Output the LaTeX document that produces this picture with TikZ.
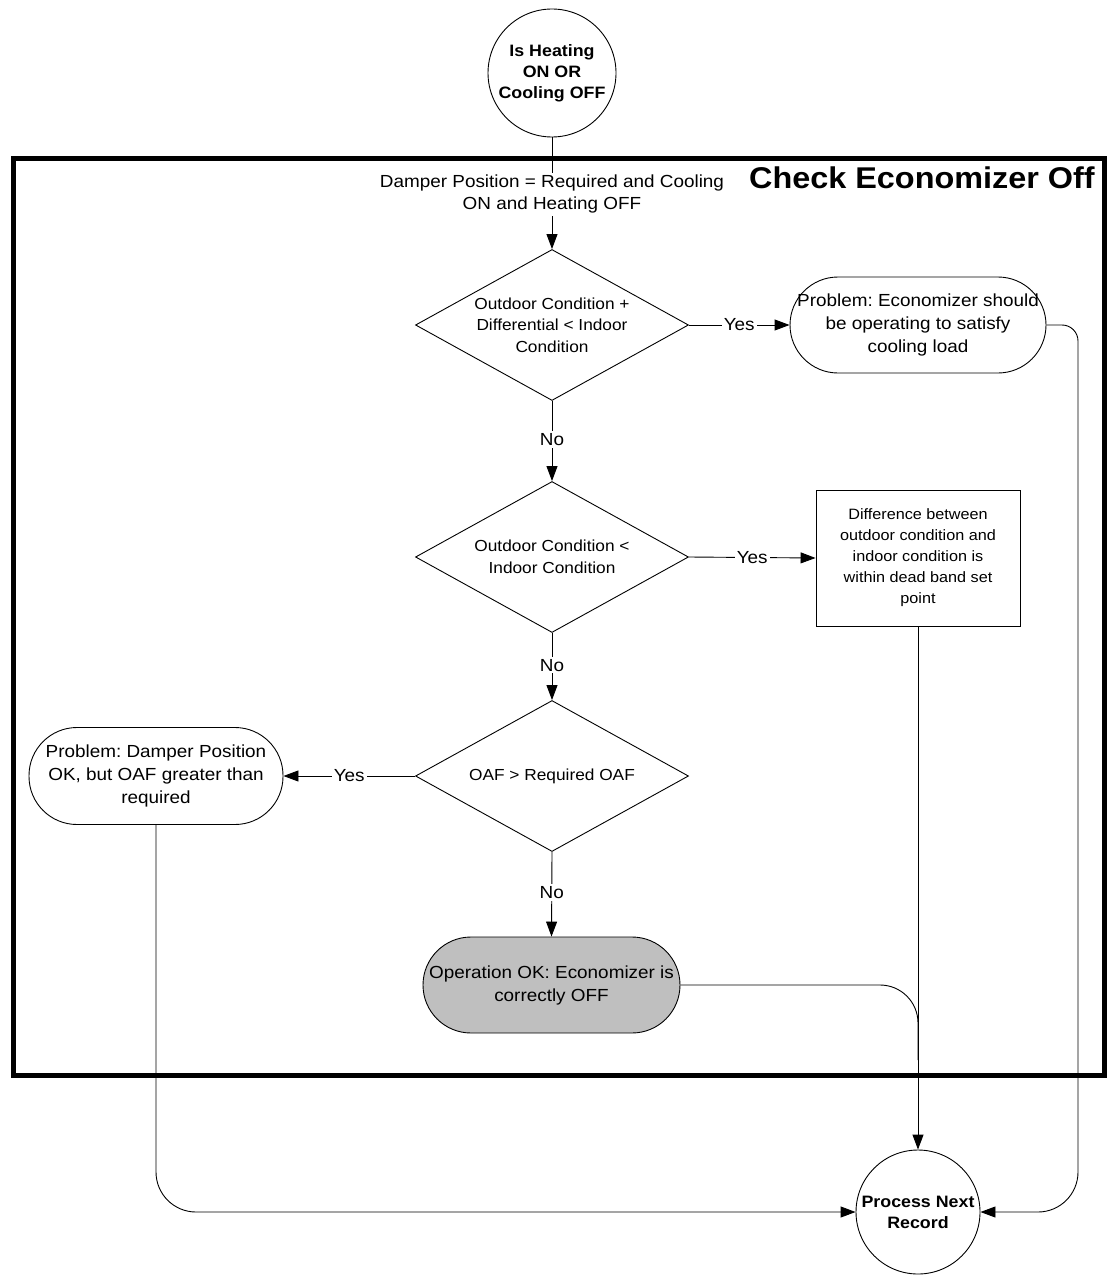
\documentclass[tikz,border=0pt]{standalone}
\usepackage{fontspec}
\setmainfont{Liberation Sans}[FakeStretch=1.08]
\usetikzlibrary{arrows.meta,shapes.geometric}
\frenchspacing

\begin{document}
\begin{tikzpicture}[x=1pt,y=-1pt,
  every node/.style={align=center},
  conn/.style={line width=0.9pt, draw=black},
  arr/.style={conn, -{Triangle[length=15pt,width=11pt]}},
  lbl/.style={fill=white, inner sep=2pt, font=\fontsize{17.5}{21}\selectfont},
  startstop/.style={circle, draw, line width=0.9pt, minimum size=126pt, inner sep=0pt,
    font=\fontsize{16.5}{21}\selectfont\bfseries},
  decision/.style={diamond, draw, line width=0.9pt, minimum width=273pt,
    minimum height=151pt, inner sep=0pt},
  dtext/.style={font=\fontsize{16}{21.5}\selectfont},
  terminal/.style={rectangle, draw, line width=0.9pt, rounded corners=48pt,
    minimum width=256pt, minimum height=96pt, inner sep=0pt,
    font=\fontsize{17.5}{23}\selectfont},
  procbox/.style={rectangle, draw, line width=0.9pt, minimum width=204pt,
    minimum height=136pt, inner sep=0pt, font=\fontsize{15}{21}\selectfont}
]
\useasboundingbox (0,0) rectangle (1111,1276);

% enclosing frame and its title
\draw[line width=5pt] (13.5,158.5) rectangle (1104,1075);
\node[anchor=base east, font=\fontsize{30}{34}\selectfont\bfseries, inner sep=0pt]
  (title) at (1095,189) {Check Economizer Off};

% start and end circles
\node[startstop, minimum size=128pt] (start) at (552,73) {Is Heating\\ON OR\\Cooling OFF};
\node[startstop, minimum size=124pt] (finish) at (918,1212) {Process Next\\Record};

% decisions
\node[decision] (d1) at (552,325) {};
\node[dtext] (d1t) at (d1) {Outdoor Condition +\\Differential < Indoor\\Condition};
\node[decision] (d2) at (552,557) {};
\node[dtext] (d2t) at (d2) {Outdoor Condition <\\Indoor Condition};
\node[decision] (d3) at (552,776) {};
\node[dtext] (d3t) at (d3) {OAF > Required OAF};

% outcomes
\node[terminal] (t1) at (918,325) {Problem: Economizer should\\be operating to satisfy\\cooling load};
\node[procbox] (box) at (918,558) {Difference between\\outdoor condition and\\indoor condition is\\within dead band set\\point};
\node[terminal, minimum width=254pt, minimum height=97pt] (t2) at (156,776)
  {Problem: Damper Position\\OK, but OAF greater than\\required};
\node[terminal, fill=black!25, minimum width=257pt] (t3) at (551.5,985)
  {Operation OK: Economizer is\\correctly OFF};

% main flow
\draw[arr] (start.south) -- node[lbl, pos=0.51, font=\fontsize{17.5}{22}\selectfont] (cond)
  {Damper Position = Required and Cooling\\ON and Heating OFF} (d1.north);
\draw[arr] (d1.east) -- node[lbl, pos=0.5] (y1) {Yes} (t1.west);
\draw[arr] (d1.south) -- node[lbl, pos=0.48] (n1) {No} (d2.north);
\draw[arr] (d2.east) -- node[lbl, pos=0.5] (y2) {Yes} (box.west);
\draw[arr] (d2.south) -- node[lbl, pos=0.48] (n2) {No} (d3.north);
\draw[arr] (d3.west) -- node[lbl, pos=0.5] (y3) {Yes} (t2.east);
\draw[arr] (d3.south) -- node[lbl, pos=0.48] (n3) {No} (t3.north);

% return paths to the end circle
\coordinate (r1) at (1078,325);
\coordinate (r2) at (1078,1212);
\coordinate (l1) at (156,1212);
\coordinate (m1) at (918,985);
\coordinate (m2) at (918,1060);
\draw[arr] (t1.east) [rounded corners=16pt] -- (r1) [rounded corners=40pt] -- (r2) -- (finish.east);
\draw[arr] (box.south) -- (finish.north);
\draw[conn, rounded corners=38pt] (t3.east) -- (m1) -- (m2);
\draw[arr, rounded corners=40pt] (t2.south) -- (l1) -- (finish.west);
\end{tikzpicture}
\end{document}
